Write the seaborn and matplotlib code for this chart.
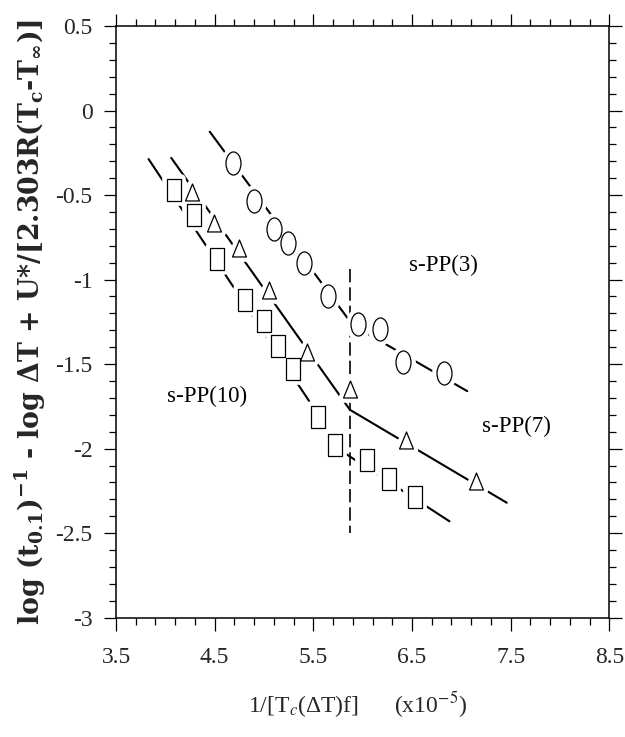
import numpy as np
import matplotlib
matplotlib.use("Agg")
import matplotlib.pyplot as plt
import seaborn as sns
from matplotlib.path import Path
from matplotlib.transforms import Affine2D
from matplotlib.ticker import MultipleLocator, FixedLocator, FixedFormatter

# --- data -----------------------------------------------------------------
# s-PP(3)  (circles)
spp3_x = [4.69, 4.90, 5.10, 5.24, 5.41, 5.65, 5.95, 6.18, 6.41, 6.82]
spp3_y = [-0.31, -0.535, -0.70, -0.783, -0.90, -1.10, -1.26, -1.29, -1.49, -1.55]
# s-PP(7)  (triangles)
spp7_x = [4.27, 4.49, 4.75, 5.05, 5.44, 5.87, 6.44, 7.15]
spp7_y = [-0.48, -0.665, -0.813, -1.06, -1.43, -1.65, -1.95, -2.19]
# s-PP(10) (squares)
spp10_x = [4.09, 4.29, 4.52, 4.81, 5.00, 5.14, 5.29, 5.55, 5.72, 6.04, 6.27, 6.53]
spp10_y = [-0.47, -0.62, -0.88, -1.12, -1.245, -1.39, -1.53, -1.81, -1.98,
           -2.07, -2.18, -2.285]

# regime I / regime II straight-line fits (start, break, end)
fit3_x = [4.45, 5.90, 7.06]
fit3_y = [-0.125, -1.27, -1.66]
fit7_x = [4.06, 5.87, 7.46]
fit7_y = [-0.28, -1.77, -2.32]
fit10_x = [3.83, 5.80, 6.88]
fit10_y = [-0.287, -2.02, -2.43]

# regime transition
trans_x = [5.87, 5.87]
trans_y = [-0.94, -2.50]

x_ticks = [3.5, 4.5, 5.5, 6.5, 7.5, 8.5]
x_ticklabels = ["3.5", "4.5", "5.5", "6.5", "7.5", "8.5"]
y_ticks = [0.5, 0.0, -0.5, -1.0, -1.5, -2.0, -2.5, -3.0]
y_ticklabels = ["0.5", "0", "-0.5", "-1", "-1.5", "-2", "-2.5", "-3"]

series_labels = ["s-PP(3)", "s-PP(7)", "s-PP(10)"]
label_pos_x = [6.82, 7.56, 4.42]
label_pos_y = [-0.914, -1.869, -1.689]

x_title = r"1/[T$_c$(ΔT)f]      (x10$^{-5}$)"
y_title = (r"log (t$_{\mathbf{0.1}}$)$^{\mathbf{-1}}$ - log ΔT + "
           r"U*/[2.303R(T$_{\mathbf{c}}$-T$_{\mathbf{\infty}}$)]")

# --- style ----------------------------------------------------------------
sns.set_theme(style="ticks")
plt.rcParams["font.family"] = ["Liberation Serif", "DejaVu Serif"]
plt.rcParams["mathtext.fontset"] = "stix"
plt.rcParams["axes.unicode_minus"] = False

# tall open markers
ellipse = Path.unit_circle().transformed(Affine2D().scale(0.65, 1.0))
rect = Path([(-0.33, -0.5), (0.33, -0.5), (0.33, 0.5), (-0.33, 0.5), (-0.33, -0.5)],
            [Path.MOVETO, Path.LINETO, Path.LINETO, Path.LINETO, Path.CLOSEPOLY])
tri = Path([(0.0, 0.5), (-0.41, -0.5), (0.41, -0.5), (0.0, 0.5)],
           [Path.MOVETO, Path.LINETO, Path.LINETO, Path.CLOSEPOLY])

fig = plt.figure(figsize=(6.25, 7.37), dpi=100)
ax = fig.add_axes([0.1856, 0.1619, 0.7894, 0.8028])

# fitted lines
for fx, fy in [(fit3_x, fit3_y), (fit7_x, fit7_y), (fit10_x, fit10_y)]:
    sns.lineplot(x=fx, y=fy, ax=ax, color="black", lw=1.5, sort=False,
                 estimator=None, zorder=2)

sns.lineplot(x=trans_x, y=trans_y, ax=ax, color="black", lw=1.2, sort=False,
             estimator=None, linestyle=(0, (8, 3)), zorder=2)

# points: white halo underneath, then open black marker
for px, py, mk, ms in [(spp3_x, spp3_y, ellipse, 16.6),
                       (spp7_x, spp7_y, tri, 12.2),
                       (spp10_x, spp10_y, rect, 16.3)]:
    sns.scatterplot(x=px, y=py, ax=ax, marker=mk, s=ms ** 2, color="white",
                    edgecolor="white", linewidth=7, zorder=3)
    sns.scatterplot(x=px, y=py, ax=ax, marker=mk, s=ms ** 2, color="white",
                    edgecolor="black", linewidth=0.9, zorder=4)

for txt, tx, ty in zip(series_labels, label_pos_x, label_pos_y):
    ax.text(tx, ty, txt, ha="center", va="center", fontsize=16.5, color="black")

# axes
ax.set_xlim(3.5, 8.5)
ax.set_ylim(-3.0, 0.5)
ax.xaxis.set_major_locator(FixedLocator(x_ticks))
ax.xaxis.set_major_formatter(FixedFormatter(x_ticklabels))
ax.yaxis.set_major_locator(FixedLocator(y_ticks))
ax.yaxis.set_major_formatter(FixedFormatter(y_ticklabels))
ax.xaxis.set_minor_locator(MultipleLocator(0.2, offset=0.1))
ax.yaxis.set_minor_locator(MultipleLocator(0.1))

for s in ax.spines.values():
    s.set_visible(True)
    s.set_linewidth(1.1)
    s.set_color("black")

ax.tick_params(which="both", direction="out", top=True, right=True,
               labeltop=False, labelright=False, color="black", width=0.9)
ax.tick_params(which="major", length=9)
ax.tick_params(which="minor", length=5)
ax.tick_params(axis="x", which="major", pad=12, labelsize=17)
ax.tick_params(axis="y", which="major", pad=8, labelsize=17)

ax.set_xlabel(x_title, fontsize=17, math_fontfamily="stix", va="baseline")
ax.xaxis.set_label_coords(0.489, -0.1606)
ax.set_ylabel(y_title, fontsize=19.3, fontfamily="DejaVu Serif", fontweight="bold",
              math_fontfamily="dejavuserif", va="center")
ax.yaxis.set_label_coords(-0.174, 0.5)

fig.savefig("out.png", dpi=100, facecolor="white")
